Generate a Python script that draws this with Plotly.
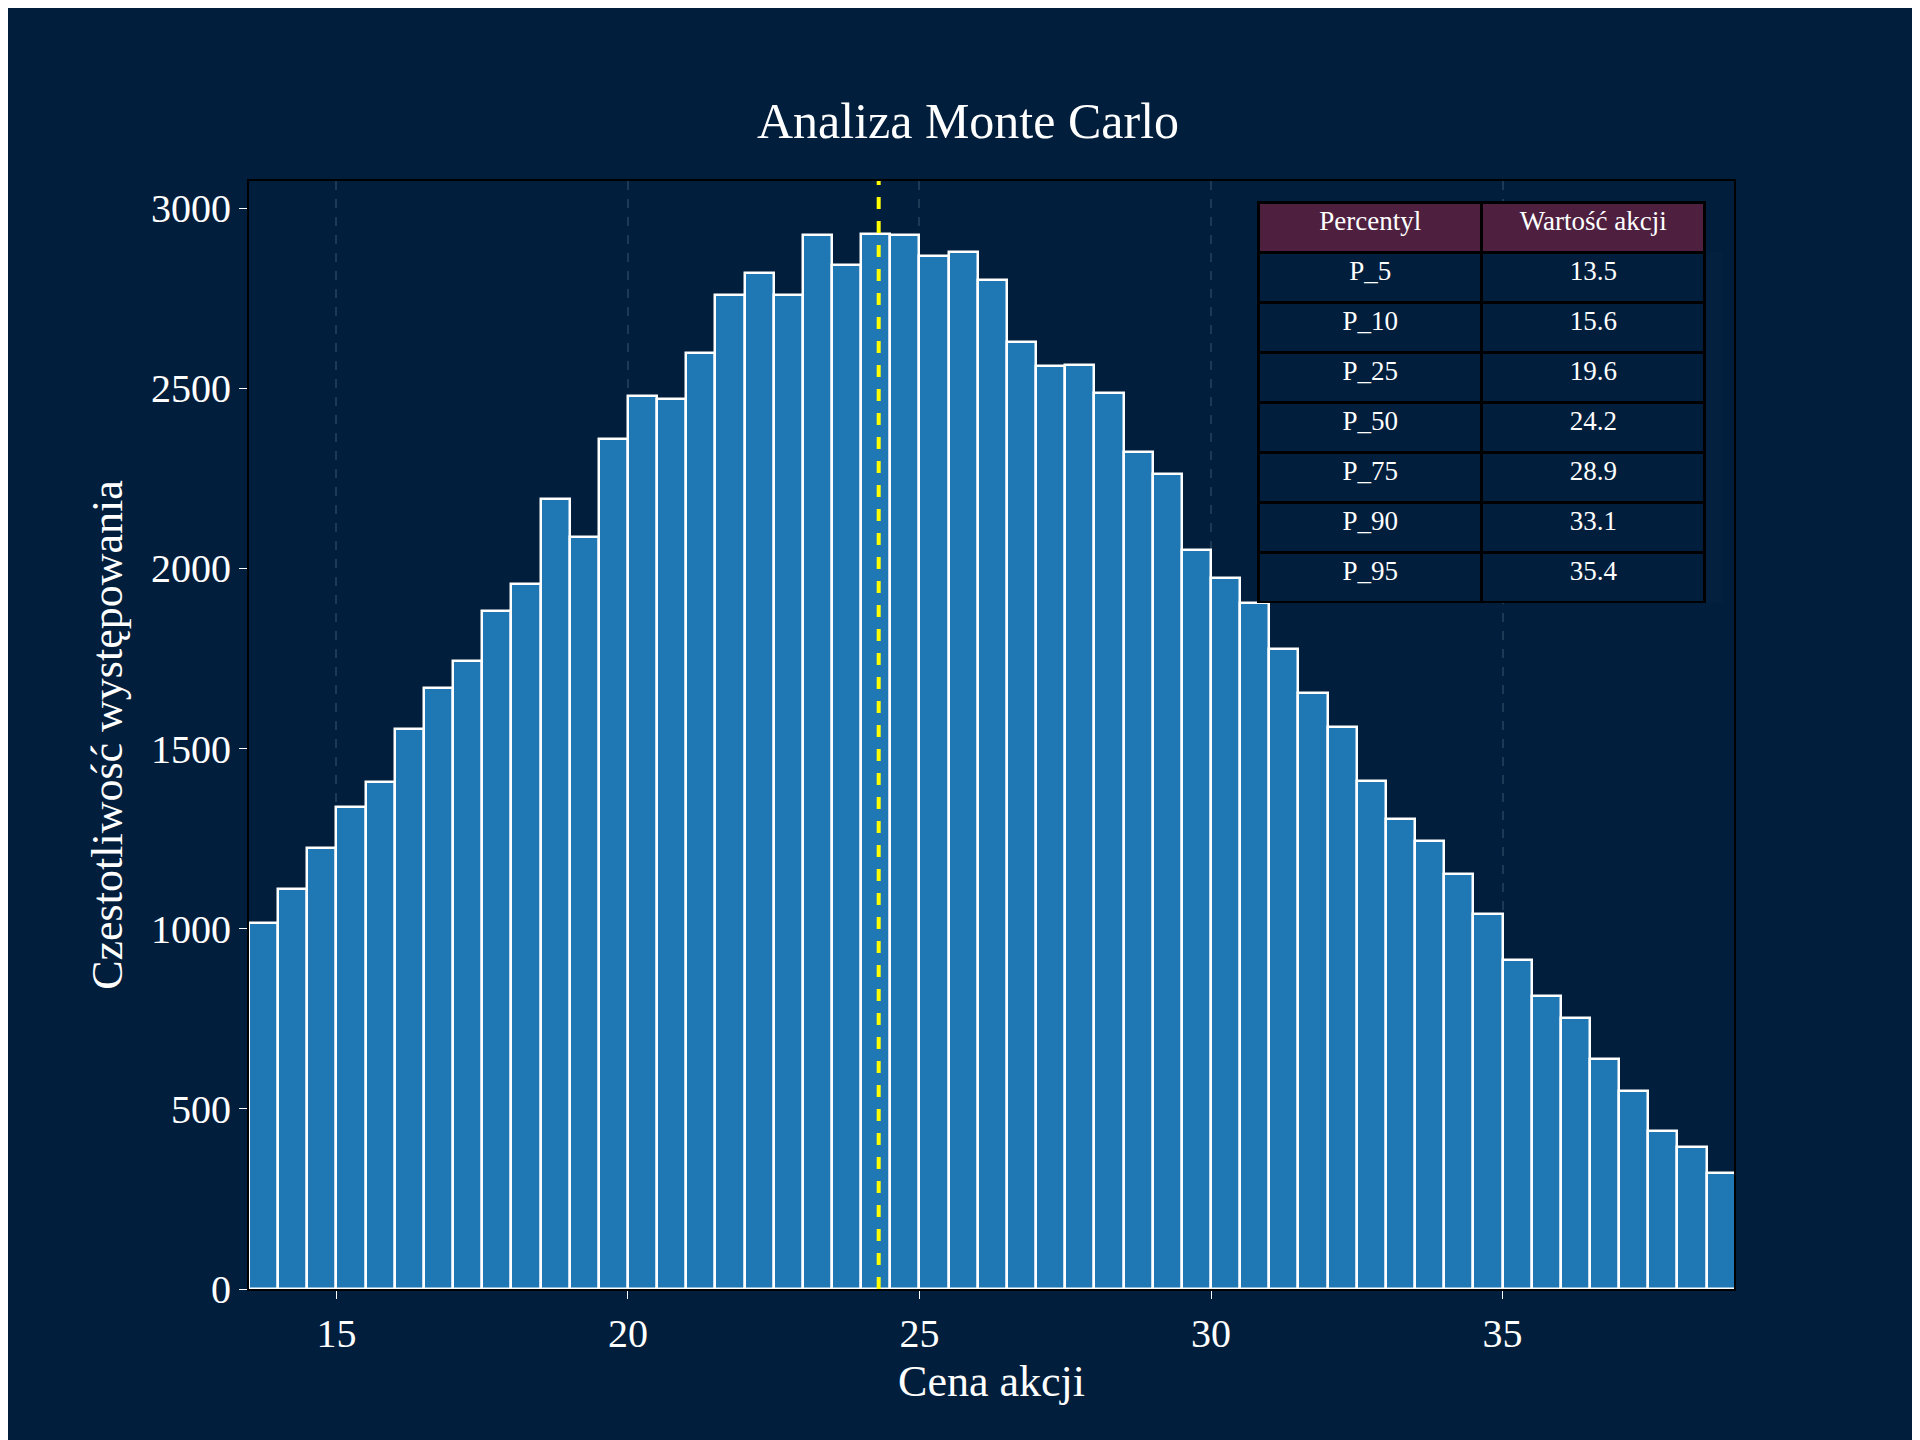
import plotly.graph_objects as go

# histogram of simulated share prices, bins of 0.5
bin_left = [13.5 + 0.5 * i for i in range(52)]
counts = [1016, 1111, 1223, 1339, 1407, 1553, 1668, 1743, 1882, 1957,
          2192, 2086, 2358, 2477, 2470, 2599, 2759, 2820, 2759, 2926,
          2841, 2929, 2926, 2868, 2878, 2800, 2627, 2562, 2565, 2487,
          2324, 2263, 2052, 1974, 1903, 1777, 1655, 1560, 1410, 1305,
          1244, 1152, 1040, 914, 812, 751, 639, 550, 438, 394, 323, 245]
mean_price = 24.3

percentyle = ["P_5", "P_10", "P_25", "P_50", "P_75", "P_90", "P_95"]
wartosci = ["13.5", "15.6", "19.6", "24.2", "28.9", "33.1", "35.4"]

bg = "#011e3c"
font = "Liberation Serif"

fig = go.Figure()
fig.add_trace(go.Bar(
    x=[b + 0.25 for b in bin_left], y=counts, width=0.5,
    marker=dict(color="#1f77b4", line=dict(color="white", width=2.5)),
    showlegend=False))

fig.add_shape(type="line", x0=mean_price, x1=mean_price, y0=0, y1=1,
              yref="paper", line=dict(color="yellow", width=4, dash="dash"))

fig.add_trace(go.Table(
    domain=dict(x=[0.68, 0.981], y=[0.619, 0.981]),
    columnwidth=[1, 1],
    header=dict(values=["Percentyl", "Wartość akcji"], fill_color="#4e1f3f",
                line=dict(color="black", width=3), height=50,
                font=dict(color="white", size=27, family=font), align="center"),
    cells=dict(values=[percentyle, wartosci], fill_color=bg,
               line=dict(color="black", width=3), height=50,
               font=dict(color="white", size=27, family=font), align="center")))

fig.update_layout(
    width=1920, height=1440,
    paper_bgcolor=bg, plot_bgcolor=bg,
    margin=dict(l=241, r=194, t=173, b=159),
    font=dict(family=font, color="white", size=40),
    title=dict(text="Analiza Monte Carlo", x=0.5, xanchor="center",
               y=0.91, yanchor="bottom", font=dict(size=50)),
    bargap=0,
    xaxis=dict(range=[13.5, 38.97], tickvals=[15, 20, 25, 30, 35],
               showgrid=True, gridcolor="#1c3a55", griddash="dash", gridwidth=2,
               ticks="outside", ticklen=8, tickcolor="white", zeroline=False,
               showline=True, linecolor="black", linewidth=2, mirror=True,
               title=dict(text="Cena akcji", font=dict(size=44), standoff=10)),
    yaxis=dict(range=[0, 3075], tickvals=[0, 500, 1000, 1500, 2000, 2500, 3000],
               showgrid=False, ticks="outside", ticklen=8, tickcolor="white",
               zeroline=False, showline=True, linecolor="black", linewidth=2, mirror=True,
               title=dict(text="Czestotliwość występowania", font=dict(size=44), standoff=15)),
)

fig.write_html("out.html")
